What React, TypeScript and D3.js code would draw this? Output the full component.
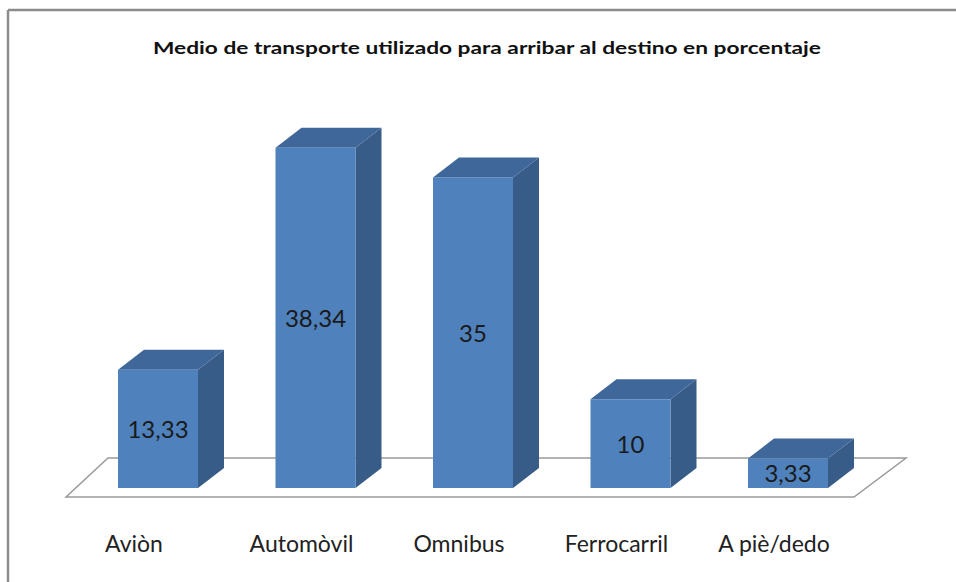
import * as d3 from "d3";

// categories and values
const categories = ["Aviòn", "Automòvil", "Omnibus", "Ferrocarril", "A piè/dedo"];
const values = [13.33, 38.34, 35, 10, 3.33];
const valueLabels = ["13,33", "38,34", "35", "10", "3,33"];
const title = "Medio de transporte utilizado para arribar al destino en porcentaje";

const W = 956;
const H = 582;
const font = "Lato, 'Open Sans', sans-serif";

export default function App() {
  const x = d3
    .scaleBand<string>()
    .domain(categories)
    .range([70.75, 875.25])
    .paddingInner(0.492)
    .paddingOuter(0.3);
  const y = d3.scaleLinear().domain([0, 40]).range([488, 133]);

  const dx = 26; // depth offset
  const dy = -20;

  // floor parallelogram
  const floorFront = 497;
  const floorBack = 458;
  const floor = [
    [66, floorFront],
    [854, floorFront],
    [906, floorBack],
    [108, floorBack],
  ];

  return (
    <svg
      width={W}
      height={H}
      style={{ position: "absolute", left: 0, top: 0, background: "#fff" }}
    >
      {/* chart frame, only top and left edges visible */}
      <line x1={8} y1={10} x2={W} y2={10} stroke="#8c8c8c" strokeWidth={2.5} />
      <line x1={8} y1={10} x2={8} y2={H} stroke="#8c8c8c" strokeWidth={2.5} />

      <text
        x={487}
        y={54}
        textAnchor="middle"
        fontFamily={font}
        fontSize={17}
        fontWeight="bold"
        fill="#111"
        textLength={668}
        lengthAdjust="spacingAndGlyphs"
      >
        {title}
      </text>

      <polygon
        points={floor.map((p) => p.join(",")).join(" ")}
        fill="#fff"
        stroke="#9a9a9a"
        strokeWidth={1.5}
      />

      {categories.map((c, i) => {
        const x0 = x(c)!;
        const x1 = x0 + x.bandwidth();
        const y0 = y(0);
        const yt = y(values[i]);
        const side = `${x1},${yt} ${x1 + dx},${yt + dy} ${x1 + dx},${y0 + dy} ${x1},${y0}`;
        const top = `${x0},${yt} ${x0 + dx},${yt + dy} ${x1 + dx},${yt + dy} ${x1},${yt}`;
        return (
          <g key={c}>
            <polygon points={side} fill="#385c88" />
            <polygon points={top} fill="#40679a" />
            <rect x={x0} y={yt} width={x1 - x0} height={y0 - yt} fill="#4f81bd" />
            <text
              x={(x0 + x1) / 2}
              y={(yt + y0) / 2 + 9}
              textAnchor="middle"
              fontFamily={font}
              fontSize={24}
              fill="#1a1a1a"
            >
              {valueLabels[i]}
            </text>
            <text
              x={(x0 + x1) / 2 - (i === 0 ? 24 : 14)}
              y={552}
              textAnchor="middle"
              fontFamily={font}
              fontSize={23}
              fill="#222"
            >
              {c}
            </text>
          </g>
        );
      })}
    </svg>
  );
}
